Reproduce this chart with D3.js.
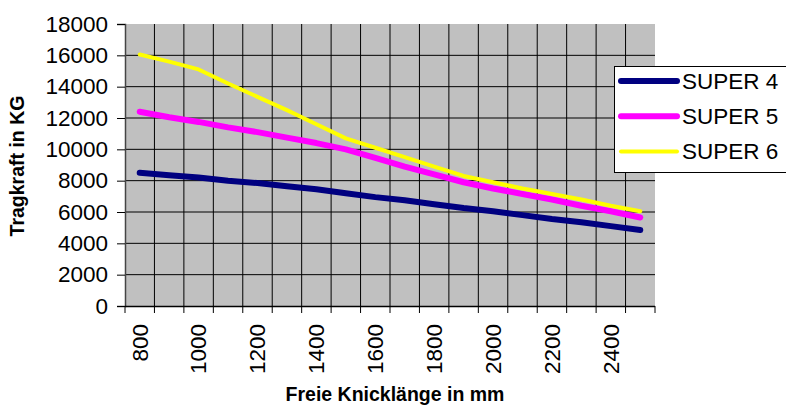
<!DOCTYPE html>
<html>
<head>
<meta charset="utf-8">
<script src="https://cdn.jsdelivr.net/npm/d3@7"></script>
<style>
  body { margin: 0; background: #fff; }
  svg { font-family: "Liberation Sans", Arial, sans-serif; }
</style>
</head>
<body>
<div id="chart"></div>
<script>
// Data
var lengths = [800, 900, 1000, 1100, 1200, 1300, 1400, 1500, 1600, 1700, 1800, 1900, 2000, 2100, 2200, 2300, 2400, 2500];
var super4 = [8500, 8350, 8200, 8000, 7850, 7650, 7450, 7200, 6950, 6750, 6500, 6250, 6050, 5800, 5550, 5350, 5100, 4850];
var super5 = [12400, 12050, 11750, 11400, 11100, 10750, 10400, 10000, 9450, 8900, 8400, 7900, 7500, 7150, 6800, 6400, 6050, 5650];
var super6 = [16050, 15600, 15100, 14200, 13350, 12500, 11600, 10700, 10100, 9500, 8900, 8300, 7900, 7500, 7150, 6800, 6400, 6050];
var seriesNames = ["SUPER 4", "SUPER 5", "SUPER 6"];
var seriesColors = ["#000080", "#FF00FF", "#FFFF00"];
var seriesWidths = [6, 6, 4];
var yTicks = [0, 2000, 4000, 6000, 8000, 10000, 12000, 14000, 16000, 18000];
var xLabels = [800, 1000, 1200, 1400, 1600, 1800, 2000, 2200, 2400];

var width = 786, height = 408;
var plotL = 125, plotR = 655, plotT = 24, plotB = 306;

var svg = d3.select("#chart").append("svg")
	.attr("width", width)
	.attr("height", height);

var x = d3.scaleBand()
	.domain(lengths)
	.range([plotL, plotR])
	.padding(0);

var y = d3.scaleLinear()
	.domain([0, 18000])
	.range([plotB, plotT]);

// plot background
svg.append("rect")
	.attr("x", plotL)
	.attr("y", plotT)
	.attr("width", plotR - plotL)
	.attr("height", plotB - plotT)
	.style("fill", "#C0C0C0");

// horizontal grid
svg.selectAll("line.hgrid")
	.data(yTicks.slice(1, -1))
	.enter()
	.append("line")
	.attr("class", "hgrid")
	.attr("x1", plotL)
	.attr("x2", plotR)
	.attr("y1", d => y(d))
	.attr("y2", d => y(d))
	.style("stroke", "#000")
	.style("stroke-width", 1);

// vertical grid + ticks at category boundaries
var bounds = lengths.map(d => x(d)).concat([plotR]);
svg.selectAll("line.vgrid")
	.data(bounds)
	.enter()
	.append("line")
	.attr("class", "vgrid")
	.attr("x1", d => d)
	.attr("x2", d => d)
	.attr("y1", (d, i) => (i == 0 || i == bounds.length - 1) ? plotB : plotT)
	.attr("y2", plotB + 7)
	.style("stroke", "#000")
	.style("stroke-width", 1);

// y axis
var yAxis = svg.append("g")
	.attr("transform", "translate(" + plotL + ",0)")
	.call(d3.axisLeft(y).tickValues(yTicks).tickSize(8).tickPadding(9).tickFormat(d3.format("d")));
yAxis.select(".domain").style("stroke", "#444").style("stroke-width", 1.5);
yAxis.selectAll(".tick line").style("stroke", "#000");
yAxis.selectAll("text")
	.attr("font-size", "22.5px")
	.attr("font-family", "'Liberation Sans', Arial, sans-serif")
	.style("fill", "#000");

// x axis line
svg.append("line")
	.attr("x1", plotL)
	.attr("x2", plotR)
	.attr("y1", plotB + 0.5)
	.attr("y2", plotB + 0.5)
	.style("stroke", "#000")
	.style("stroke-width", 1.5);

// x labels (every other category)
svg.selectAll("text.xlab")
	.data(xLabels)
	.enter()
	.append("text")
	.attr("class", "xlab")
	.attr("transform", d => "translate(" + (x(d) + x.bandwidth() / 2) + "," + 324 + ") rotate(-90)")
	.attr("dy", "0.35em")
	.style("text-anchor", "end")
	.attr("font-size", "22.5px")
	.text(d => d);

// lines
var allSeries = [super4, super5, super6];
var line = d3.line()
	.x((d, i) => x(lengths[i]) + x.bandwidth() / 2)
	.y(d => y(d));

svg.selectAll("path.series")
	.data(allSeries)
	.enter()
	.append("path")
	.attr("class", "series")
	.attr("d", d => line(d))
	.style("fill", "none")
	.style("stroke", (d, i) => seriesColors[i])
	.style("stroke-width", (d, i) => seriesWidths[i])
	.style("stroke-linecap", "round")
	.style("stroke-linejoin", "round");

// axis titles
svg.append("text")
	.attr("x", 395)
	.attr("y", 401)
	.style("text-anchor", "middle")
	.attr("font-size", "19.5px")
	.attr("font-weight", "bold")
	.text("Freie Knicklänge in mm");

svg.append("text")
	.attr("transform", "translate(24,166) rotate(-90)")
	.style("text-anchor", "middle")
	.attr("font-size", "19.5px")
	.attr("font-weight", "bold")
	.text("Tragkraft in KG");

// legend
var legend = svg.append("g")
	.attr("transform", "translate(614,66)");

legend.append("rect")
	.attr("x", 0.5)
	.attr("y", 0.5)
	.attr("width", 180)
	.attr("height", 106)
	.style("fill", "#fff")
	.style("stroke", "#000")
	.style("stroke-width", 1);

var items = legend.selectAll("g.item")
	.data(seriesNames)
	.enter()
	.append("g")
	.attr("class", "item")
	.attr("transform", (d, i) => "translate(0," + (15 + i * 35.3) + ")");

items.append("line")
	.attr("x1", 7)
	.attr("x2", 63)
	.attr("y1", 0)
	.attr("y2", 0)
	.style("stroke", (d, i) => seriesColors[i])
	.style("stroke-width", (d, i) => seriesWidths[i])
	.style("stroke-linecap", "round");

items.append("text")
	.attr("x", 68)
	.attr("y", 0)
	.attr("dy", "0.35em")
	.attr("font-size", "22.5px")
	.text(d => d);
</script>
</body>
</html>
